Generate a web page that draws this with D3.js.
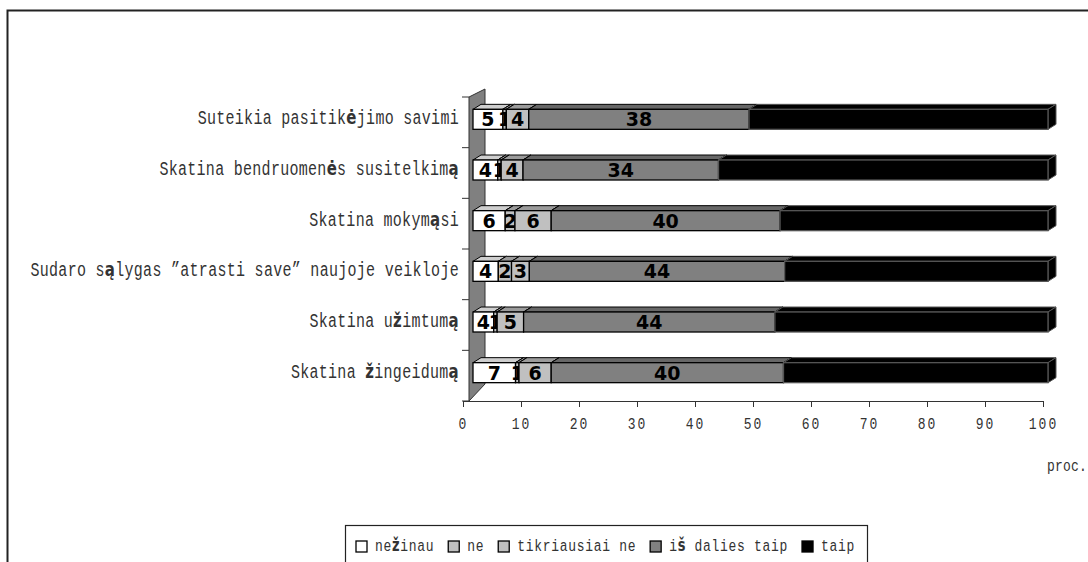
<!DOCTYPE html>
<html>
<head>
<meta charset="utf-8">
<script src="https://cdn.jsdelivr.net/npm/d3@7"></script>
<style>
  body { margin: 0; background: #fff; }
  svg { display: block; }
</style>
</head>
<body>
<div id="chart"></div>
<script>
// categories, top to bottom
const categories = [
    "Suteikia pasitikėjimo savimi",
    "Skatina bendruomenės susitelkimą",
    "Skatina mokymąsi",
    "Sudaro sąlygas \u201Datrasti save\u201D naujoje veikloje",
    "Skatina užimtumą",
    "Skatina žingeidumą",
]
const seriesNames = ["nežinau", "ne", "tikriausiai ne", "iš dalies taip", "taip"]

// percent values
const neZinau        = [5.2, 4.3, 5.6, 4.4, 3.6, 7.4]
const ne             = [0.6, 0.6, 1.7, 2.3, 0.6, 0.6]
const tikriausiaiNe  = [3.9, 3.8, 6.3, 3.1, 4.6, 5.6]
const isDaliesTaip   = [38.3, 34.0, 39.8, 44.4, 43.7, 40.4]
const taip           = [52.0, 57.3, 46.6, 45.8, 47.5, 46.0]

const xTicks = [0, 10, 20, 30, 40, 50, 60, 70, 80, 90, 100]
const axisTitle = "proc."

const seriesValues = [neZinau, ne, tikriausiaiNe, isDaliesTaip, taip]
const colors = ["#ffffff", "#c0c0c0", "#c0c0c0", "#808080", "#000000"]

// the Lithuanian letters come out bold in the picture
const special = /[ąčęėįšųūžĄČĘĖĮŠŲŪŽ]/
function addText(textSel, str) {
    str.split(/([ąčęėįšųūžĄČĘĖĮŠŲŪŽ])/).filter(p => p.length).forEach(p => {
        const t = textSel.append("tspan").text(p)
        if (special.test(p)) {
            t.attr("font-family", "DejaVu Sans").attr("font-weight", "bold")
        }
    })
}

function drawChart() {
    const width = 1088
    const height = 562
    const depth = { dx: 8, dy: -5 }
    const stretch = 1.3   // the picture's text is tall and narrow

    const svg = d3.select("#chart")
        .append("svg")
        .attr("width", width)
        .attr("height", height)

    // outer chart frame (continues past the picture)
    svg.append("rect")
        .attr("x", 7.5)
        .attr("y", 10.5)
        .attr("width", 1200)
        .attr("height", 700)
        .attr("fill", "none")
        .attr("stroke", "#222")
        .attr("stroke-width", 2)

    const yScale = d3.scaleBand()
        .domain(categories)
        .range([97, 401])

    const xAxisScale = d3.scaleLinear()
        .domain([0, 100])
        .range([463, 1043])

    // front faces of the bars sit a bit deeper than the axis
    const xScale = d3.scaleLinear()
        .domain([0, 100])
        .range([473, 1048])

    // stacked data
    const rows = categories.map((c, i) => {
        let acc = 0
        return seriesValues.map((vals, s) => {
            const seg = { cat: c, s: s, v: vals[i], x0: acc, x1: acc + vals[i] }
            acc += vals[i]
            return seg
        })
    })

    // left wall
    const wallX0 = xScale(0) - 4
    const wallX1 = wallX0 + 16
    const yTop = yScale.range()[0]
    const yBot = yScale.range()[1]
    svg.append("path")
        .attr("d", `M${wallX0},${yTop} L${wallX1},${yTop - 8} L${wallX1},${yBot - 17} L${wallX0},${yBot} Z`)
        .attr("fill", "#808080")
        .attr("stroke", "#333")
        .attr("stroke-width", 1)

    // category axis ticks at band edges
    const edges = categories.map(c => yScale(c)).concat([yBot])
    svg.append("g")
        .selectAll("line")
        .data(edges)
        .join("line")
        .attr("x1", wallX0 - 7)
        .attr("x2", wallX0)
        .attr("y1", d => d)
        .attr("y2", d => d)
        .attr("stroke", "#333")

    // value axis
    const xAxisGenerator = d3.axisBottom(xAxisScale)
        .tickValues(xTicks)
        .tickSize(6)
        .tickPadding(11)
        .tickFormat(d3.format("d"))

    const xAxis = svg.append("g")
        .attr("transform", `translate(0, ${yBot})`)
        .call(xAxisGenerator)
    xAxis.select(".domain").attr("stroke", "#333")
    xAxis.selectAll(".tick line").attr("stroke", "#333")
    xAxis.selectAll("text")
        .attr("y", 0)
        .attr("dy", "0.71em")
        .attr("transform", `translate(0, 16) scale(1, ${stretch})`)
        .attr("font-family", "Liberation Mono")
        .attr("font-size", 13)
        .attr("letter-spacing", 2)
        .attr("fill", "#333")

    svg.append("text")
        .attr("transform", `translate(1047, 471) scale(1, ${stretch})`)
        .attr("font-family", "Liberation Mono")
        .attr("font-size", 13)
        .attr("letter-spacing", 0.2)
        .attr("fill", "#333")
        .text(axisTitle)

    // bars
    const barH = 20
    const bars = svg.append("g")
    rows.forEach(row => {
        const yFront = yScale(row[0].cat) + yScale.bandwidth() / 2 - 13
        row.forEach(seg => {
            const xa = xScale(seg.x0)
            const xb = xScale(seg.x1)
            const fill = colors[seg.s]
            const g = bars.append("g")
            const edge = seg.s === 4 ? "#555" : "#000"
            // top face
            g.append("path")
                .attr("d", `M${xa},${yFront} L${xa + depth.dx},${yFront + depth.dy} L${xb + depth.dx},${yFront + depth.dy} L${xb},${yFront} Z`)
                .attr("fill", d3.color(fill).darker(0.6))
                .attr("stroke", edge)
                .attr("stroke-width", 1)
            // right face
            g.append("path")
                .attr("d", `M${xb},${yFront} L${xb + depth.dx},${yFront + depth.dy} L${xb + depth.dx},${yFront + barH + depth.dy} L${xb},${yFront + barH} Z`)
                .attr("fill", d3.color(fill).darker(1))
                .attr("stroke", edge)
                .attr("stroke-width", 1)
            // front face
            g.append("rect")
                .attr("x", xa)
                .attr("y", yFront)
                .attr("width", xb - xa)
                .attr("height", barH)
                .attr("fill", fill)
                .attr("stroke", edge)
                .attr("stroke-width", 1.3)
            // data label
            g.append("text")
                .attr("x", (xa + xb) / 2)
                .attr("y", yFront + barH / 2)
                .attr("dy", "0.36em")
                .attr("text-anchor", "middle")
                .attr("font-family", "DejaVu Sans")
                .attr("font-weight", "bold")
                .attr("font-size", 19)
                .attr("fill", "#000")
                .text(Math.round(seg.v))
        })
    })

    // category labels
    const labels = svg.append("g")
    categories.forEach(c => {
        const t = labels.append("text")
            .attr("transform", `translate(459, ${yScale(c) + yScale.bandwidth() / 2 + 2}) scale(1, ${stretch})`)
            .attr("text-anchor", "end")
            .attr("font-family", "Liberation Mono")
            .attr("font-size", 15)
            .attr("letter-spacing", 0.3)
            .attr("fill", "#333")
        addText(t, c)
    })

    // legend
    const legend = svg.append("g")
    legend.append("rect")
        .attr("x", 345.5)
        .attr("y", 525.5)
        .attr("width", 522)
        .attr("height", 80)
        .attr("fill", "#fff")
        .attr("stroke", "#222")
        .attr("stroke-width", 1.2)

    let lx = 356
    const ly = 546
    seriesNames.forEach((name, s) => {
        legend.append("rect")
            .attr("x", lx)
            .attr("y", ly - 5)
            .attr("width", 11)
            .attr("height", 11)
            .attr("fill", colors[s])
            .attr("stroke", "#000")
            .attr("stroke-width", 1.3)
        const t = legend.append("text")
            .attr("transform", `translate(${lx + 19}, ${ly + 5}) scale(1, ${stretch})`)
            .attr("font-family", "Liberation Mono")
            .attr("font-size", 13)
            .attr("letter-spacing", 0.7)
            .attr("fill", "#333")
        addText(t, name)
        lx += 19 + t.node().getComputedTextLength() + 14
    })
}

drawChart()
</script>
</body>
</html>
